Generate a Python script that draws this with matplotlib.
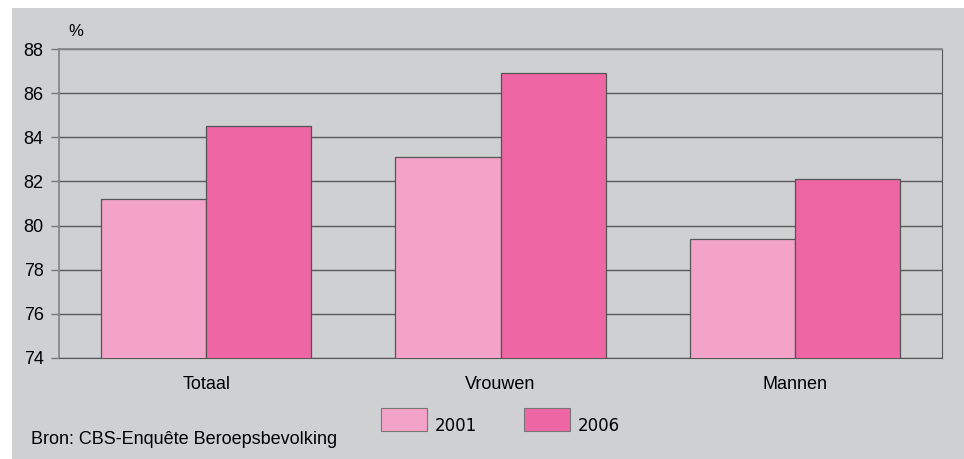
import numpy as np
import matplotlib.pyplot as plt
from matplotlib.patches import Rectangle

plt.rcParams['font.family'] = ['Liberation Sans', 'DejaVu Sans']

# data
categories = ['Totaal', 'Vrouwen', 'Mannen']
years = ['2001', '2006']
values_2001 = [81.2, 83.1, 79.4]
values_2006 = [84.5, 86.9, 82.1]

bg = '#cfd0d2'
col_2001 = '#f4a3c8'
col_2006 = '#ee66a4'

fig = plt.figure(figsize=(9.64, 4.59), dpi=100)
fig.patch.set_facecolor('white')
# grey panel behind everything (white strip above it)
fig.patches.append(Rectangle((12 / 964, 0), 1, 1 - 8 / 459, transform=fig.transFigure,
                             facecolor=bg, edgecolor='none', zorder=-10))

ax = fig.add_axes([59 / 964, 1 - 358 / 459, (942 - 59) / 964, (358 - 49) / 459])
ax.set_facecolor(bg)

x = np.arange(len(categories))
w = 0.357
ax.bar(x - w / 2, values_2001, w, color=col_2001, edgecolor='#555555', linewidth=0.9, zorder=3)
ax.bar(x + w / 2, values_2006, w, color=col_2006, edgecolor='#555555', linewidth=0.9, zorder=3)

ax.set_xlim(-0.5, 2.5)
ax.set_ylim(74, 88)
ax.set_yticks(np.arange(74, 89, 2))
ax.yaxis.grid(True, color='#5a5a5a', linewidth=1.0, zorder=1)
ax.set_xticks(x)
ax.set_xticklabels(categories, fontsize=13)
ax.tick_params(axis='x', length=0, pad=13)
ax.tick_params(axis='y', length=6, width=1, color='#777777', labelsize=13, pad=5)

for s in ['left', 'top']:
    ax.spines[s].set_color('#888888')
    ax.spines[s].set_linewidth(1.3)
ax.spines['right'].set_color('#555555')
ax.spines['bottom'].set_color('#555555')

fig.text(68 / 964, 1 - 31 / 459, '%', fontsize=12, va='center')

# legend
box_x = [381, 524]
for bx, yr, c in zip(box_x, years, [col_2001, col_2006]):
    fig.patches.append(Rectangle((bx / 964, 1 - 431 / 459), 46 / 964, 23 / 459,
                                 transform=fig.transFigure, facecolor=c,
                                 edgecolor='#777777', linewidth=0.8))
    fig.text((bx + 54) / 964, 1 - 431 / 459, yr, fontsize=12, va='baseline',
             family=['DejaVu Sans'])

fig.text(31 / 964, 1 - 439 / 459, 'Bron: CBS-Enquête Beroepsbevolking', fontsize=13, va='center')

fig.savefig('out.png', dpi=100, facecolor=fig.get_facecolor())
